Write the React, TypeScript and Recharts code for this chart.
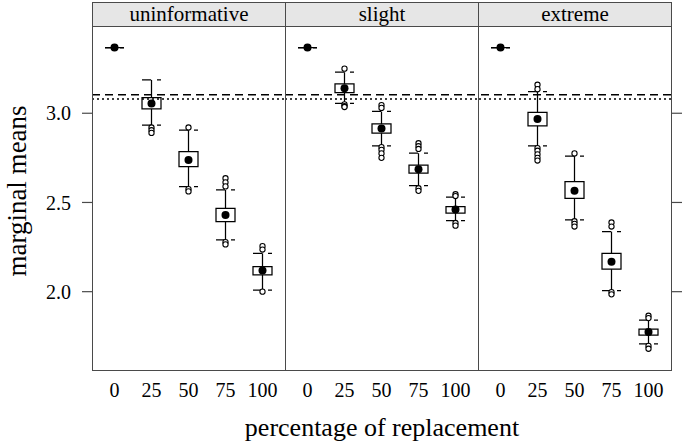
import React from "react";
import {
  ComposedChart,
  Bar,
  Line,
  XAxis,
  YAxis,
  ReferenceLine,
} from "recharts";

const categories = ["0", "25", "50", "75", "100"];
const panels = ["uninformative", "slight", "extreme"];

// per panel, per category
const lowWhisker = [
  [3.368, 2.933, 2.589, 2.29, 2.009],
  [3.368, 3.056, 2.817, 2.594, 2.398],
  [3.368, 2.817, 2.402, 2.006, 1.707],
];
const lowerQuartile = [
  [3.368, 3.024, 2.701, 2.392, 2.094],
  [3.368, 3.115, 2.888, 2.664, 2.44],
  [3.368, 2.929, 2.523, 2.126, 1.756],
];
const medians = [
  [3.368, 3.054, 2.738, 2.43, 2.118],
  [3.368, 3.14, 2.914, 2.686, 2.46],
  [3.368, 2.968, 2.566, 2.168, 1.774],
];
const upperQuartile = [
  [3.368, 3.087, 2.785, 2.467, 2.14],
  [3.368, 3.164, 2.94, 2.709, 2.477],
  [3.368, 3.005, 2.617, 2.215, 1.79],
];
const highWhisker = [
  [3.368, 3.187, 2.905, 2.57, 2.215],
  [3.368, 3.23, 3.01, 2.776, 2.53],
  [3.368, 3.121, 2.76, 2.337, 1.84],
];
const outliers = [
  [
    [],
    [2.92, 2.905, 2.89],
    [2.92, 2.575, 2.562],
    [2.636, 2.613, 2.59, 2.278, 2.265],
    [2.255, 2.236, 2.0],
  ],
  [
    [],
    [3.25, 3.05, 3.04, 3.035],
    [3.046, 3.03, 2.81, 2.795, 2.775, 2.75],
    [2.832, 2.815, 2.8, 2.58, 2.565],
    [2.546, 2.536, 2.385, 2.37],
  ],
  [
    [],
    [3.16, 3.135, 2.805, 2.79, 2.77, 2.75, 2.735],
    [2.775, 2.395, 2.38, 2.365],
    [2.388, 2.365, 1.998, 1.985],
    [1.865, 1.852, 1.696, 1.68],
  ],
];
const yTicks = [2.0, 2.5, 3.0];
const dashedLevel = 3.103;
const dottedLevel = 3.08;

const Y_DOMAIN = [1.561, 3.489];
const MAX_OUT = 7;
const outKeys = Array.from({ length: MAX_OUT }, (_, i) => "o" + i);

const PLOT_LEFT = 92;
const PANEL_W = 193;
const PLOT_TOP = 26;
const PLOT_H = 344;
const FONT = '"Liberation Serif", "DejaVu Serif", serif';
const FRAME = "#4a4a4a";
const SW = 1.25;

function rowsFor(p: number) {
  return categories.map((c, i) => {
    const row: any = {
      cat: c,
      whisker: [lowWhisker[p][i], highWhisker[p][i]],
      box: [lowerQuartile[p][i], upperQuartile[p][i]],
      med: medians[p][i],
    };
    outKeys.forEach((k, j) => {
      row[k] = outliers[p][i][j] ?? null;
    });
    return row;
  });
}

const WhiskerShape = (props: any) => {
  const { x, y, width, height } = props;
  const top = Math.min(y, y + height);
  const bottom = Math.max(y, y + height);
  const cx = x + width / 2;
  return (
    <g>
      <line x1={cx} x2={cx} y1={top} y2={bottom} stroke="#000" strokeWidth={SW} />
      <line x1={x} x2={x + width} y1={top} y2={top} stroke="#000" strokeWidth={SW} strokeDasharray="9 6" />
      <line x1={x} x2={x + width} y1={bottom} y2={bottom} stroke="#000" strokeWidth={SW} strokeDasharray="9 6" />
    </g>
  );
};

const BoxShape = (props: any) => {
  const { x, y, width, height } = props;
  const top = Math.min(y, y + height);
  const bottom = Math.max(y, y + height);
  return (
    <path
      d={`M${x},${top}H${x + width}V${bottom}H${x}Z`}
      fill="#fff"
      stroke="#000"
      strokeWidth={SW}
    />
  );
};

const OutlierDot = (props: any) => {
  const { cx, cy, index } = props;
  if (cy == null || Number.isNaN(cy) || cx == null) return <g key={index} />;
  return <circle key={index} cx={cx} cy={cy} r={2.6} fill="#fff" stroke="#000" strokeWidth={1.1} />;
};

function Panel({ p }: { p: number }) {
  const data = rowsFor(p);
  const first = p === 0;
  const last = p === panels.length - 1;
  const leftW = first ? PLOT_LEFT : 0;
  const rightW = last ? 14 : 0;
  const width = leftW + PANEL_W + rightW;
  const left = first ? 0 : PLOT_LEFT + p * PANEL_W;
  return (
    <div style={{ position: "absolute", left, top: PLOT_TOP }}>
      <ComposedChart
        width={width}
        height={PLOT_H + 40}
        data={data}
        margin={{ top: 0, right: 0, bottom: 0, left: 0 }}
      >
        <XAxis
          xAxisId="box"
          dataKey="cat"
          type="category"
          padding={{ left: 4, right: 4 }}
          tickLine={false}
          axisLine={false}
          tickSize={0}
          tickMargin={13}
          height={40}
          tick={{ fontSize: 20, fill: "#000", fontFamily: FONT }}
        />
        <XAxis xAxisId="wh" dataKey="cat" type="category" padding={{ left: 4, right: 4 }} hide />
        <XAxis xAxisId="full" type="number" domain={[0, 1]} hide />
        {first && (
          <YAxis
            orientation="left"
            width={PLOT_LEFT}
            domain={Y_DOMAIN}
            allowDataOverflow
            type="number"
            ticks={yTicks}
            tickFormatter={(v: number) => v.toFixed(1)}
            axisLine={false}
            tickSize={10}
            tickMargin={11}
            tickLine={{ stroke: FRAME, strokeWidth: 1.2 }}
            tick={{ fontSize: 20, fill: "#000", fontFamily: FONT }}
          />
        )}
        {!first && !last && (
          <YAxis hide domain={Y_DOMAIN} allowDataOverflow type="number" />
        )}
        {last && (
          <YAxis
            orientation="right"
            width={rightW}
            domain={Y_DOMAIN}
            allowDataOverflow
            type="number"
            ticks={yTicks}
            axisLine={false}
            tickSize={11}
            tickLine={{ stroke: FRAME, strokeWidth: 1.2 }}
            tick={() => <text />}
          />
        )}
        <ReferenceLine xAxisId="full" y={dashedLevel} stroke="#000" strokeWidth={1.5} strokeDasharray="8 5" />
        <ReferenceLine xAxisId="full" y={dottedLevel} stroke="#000" strokeWidth={1.5} strokeDasharray="2 3" />
        <Bar
          xAxisId="wh"
          dataKey="whisker"
          barSize={19}
          shape={WhiskerShape}
          isAnimationActive={false}
        />
        <Bar
          xAxisId="box"
          dataKey="box"
          barSize={19}
          shape={BoxShape}
          isAnimationActive={false}
        />
        <Line
          xAxisId="box"
          dataKey="med"
          stroke="none"
          dot={{ r: 4, fill: "#000", stroke: "#000", strokeWidth: 0 }}
          activeDot={false}
          isAnimationActive={false}
        />
        {outKeys.map((k) => (
          <Line
            key={k}
            xAxisId="box"
            dataKey={k}
            stroke="none"
            dot={OutlierDot}
            activeDot={false}
            connectNulls={false}
            isAnimationActive={false}
          />
        ))}
      </ComposedChart>
    </div>
  );
}

export default function App() {
  return (
    <div
      style={{
        position: "absolute",
        left: 0,
        top: 0,
        width: 686,
        height: 444,
        background: "#fff",
        fontFamily: FONT,
        overflow: "hidden",
      }}
    >
      {panels.map((name, p) => (
        <Panel key={name} p={p} />
      ))}
      {panels.map((name, p) => (
        <div
          key={"strip-" + name}
          style={{
            position: "absolute",
            left: PLOT_LEFT + p * PANEL_W,
            top: 2,
            width: PANEL_W + 1,
            height: PLOT_TOP - 2 + 1,
            boxSizing: "border-box",
            border: `1.3px solid ${FRAME}`,
            background: "#e6e6e6",
            fontSize: 21,
            lineHeight: "22px",
            textAlign: "center",
            color: "#000",
          }}
        >
          {name}
        </div>
      ))}
      {panels.map((name, p) => (
        <div
          key={"frame-" + name}
          style={{
            position: "absolute",
            left: PLOT_LEFT + p * PANEL_W,
            top: PLOT_TOP,
            width: PANEL_W + 1,
            height: PLOT_H + 1,
            boxSizing: "border-box",
            border: `1.3px solid ${FRAME}`,
            pointerEvents: "none",
          }}
        />
      ))}
      <div
        style={{
          position: "absolute",
          left: 17,
          top: 191,
          transform: "translate(-50%, -50%) rotate(-90deg)",
          whiteSpace: "nowrap",
          fontSize: 27,
          color: "#000",
        }}
      >
        marginal means
      </div>
      <div
        style={{
          position: "absolute",
          left: 382,
          top: 428,
          transform: "translate(-50%, -50%)",
          whiteSpace: "nowrap",
          fontSize: 26,
          color: "#000",
        }}
      >
        percentage of replacement
      </div>
    </div>
  );
}
